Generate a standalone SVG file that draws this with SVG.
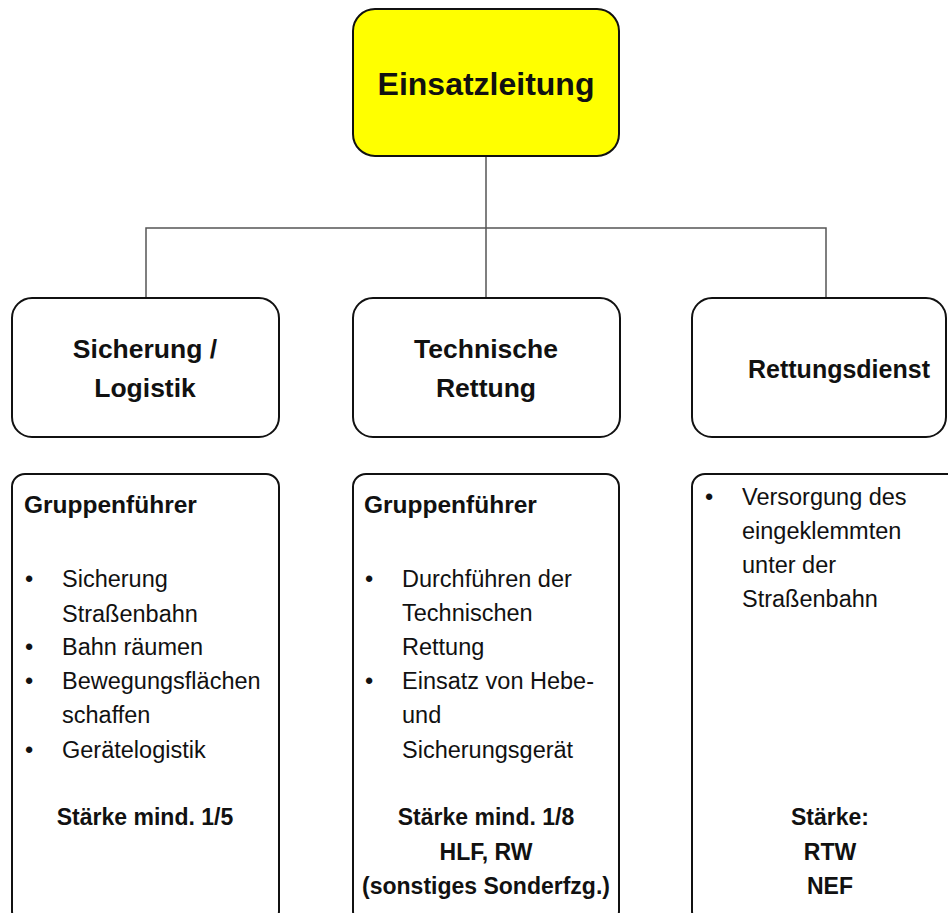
<svg xmlns="http://www.w3.org/2000/svg" width="948" height="913" viewBox="0 0 948 913">
<style>
.box{fill:#fff;stroke:#111;stroke-width:2}
.top{fill:#ffff00;stroke:#111;stroke-width:2}
.con{fill:none;stroke:#555;stroke-width:1.5}
text{font-family:"Liberation Sans",Arial,sans-serif;fill:#111}
.h1{font-size:32px;font-weight:bold;text-anchor:middle}
.h2{font-size:26.5px;font-weight:bold;text-anchor:middle}
.hd{font-size:24.5px;font-weight:bold}
.t{font-size:23.5px}
.b{font-size:23px;font-weight:bold;text-anchor:middle}
</style>
<rect width="948" height="913" fill="#fff"/>
<g id="connectors">
<path class="con" d="M486 156 V298"/>
<path class="con" d="M146 298 V228 H826 V298"/>
</g>
<g id="einsatzleitung">
<rect class="top" x="353" y="9" width="266" height="147" rx="22"/>
<text class="h1" x="486" y="95">Einsatzleitung</text>
</g>
<g id="sicherung">
<rect class="box" x="12" y="298" width="267" height="139" rx="20"/>
<text class="h2" x="145" y="358">Sicherung /</text>
<text class="h2" x="145" y="397">Logistik</text>
</g>
<g id="technische">
<rect class="box" x="353" y="298" width="267" height="139" rx="20"/>
<text class="h2" x="486" y="358">Technische</text>
<text class="h2" x="486" y="397">Rettung</text>
</g>
<g id="rettungsdienst">
<rect class="box" x="692" y="298" width="254" height="139" rx="20"/>
<text class="h2" x="839" y="378" style="font-size:25px">Rettungsdienst</text>
</g>
<g id="details-sicherung">
<rect class="box" x="12" y="474" width="267" height="450" rx="13"/>
<text class="hd" x="24" y="513">Gruppenführer</text>
<text class="t" x="25" y="587">•</text>
<text class="t" x="62" y="587">Sicherung</text>
<text class="t" x="62" y="622">Straßenbahn</text>
<text class="t" x="25" y="655">•</text>
<text class="t" x="62" y="655">Bahn räumen</text>
<text class="t" x="25" y="689">•</text>
<text class="t" x="62" y="689">Bewegungsflächen</text>
<text class="t" x="62" y="723">schaffen</text>
<text class="t" x="25" y="758">•</text>
<text class="t" x="62" y="758">Gerätelogistik</text>
<text class="b" x="145" y="825">Stärke mind. 1/5</text>
</g>
<g id="details-technische">
<rect class="box" x="353" y="474" width="266" height="450" rx="13"/>
<text class="hd" x="364" y="513">Gruppenführer</text>
<text class="t" x="365" y="587">•</text>
<text class="t" x="402" y="587">Durchführen der</text>
<text class="t" x="402" y="621">Technischen</text>
<text class="t" x="402" y="655">Rettung</text>
<text class="t" x="365" y="689">•</text>
<text class="t" x="402" y="689">Einsatz von Hebe-</text>
<text class="t" x="402" y="723">und</text>
<text class="t" x="402" y="758">Sicherungsgerät</text>
<text class="b" x="486" y="825">Stärke mind. 1/8</text>
<text class="b" x="486" y="860">HLF, RW</text>
<text class="b" x="486" y="894">(sonstiges Sonderfzg.)</text>
</g>
<g id="details-rettungsdienst">
<rect class="box" x="692" y="474" width="290" height="450" rx="13"/>
<text class="t" x="705" y="505">•</text>
<text class="t" x="742" y="505">Versorgung des</text>
<text class="t" x="742" y="539">eingeklemmten</text>
<text class="t" x="742" y="573">unter der</text>
<text class="t" x="742" y="607">Straßenbahn</text>
<text class="b" x="830" y="825">Stärke:</text>
<text class="b" x="830" y="860">RTW</text>
<text class="b" x="830" y="894">NEF</text>
</g>
</svg>
